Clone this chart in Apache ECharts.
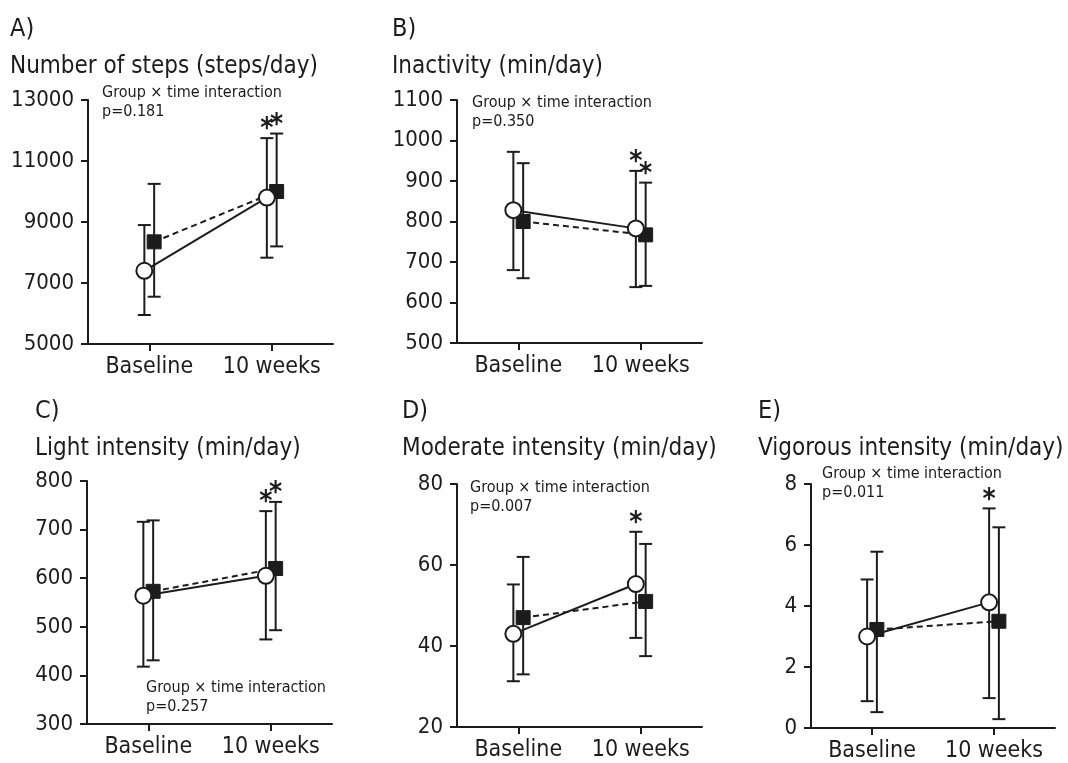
<!DOCTYPE html>
<html>
<head>
<meta charset="utf-8">
<script src="https://cdn.jsdelivr.net/npm/echarts@6/dist/echarts.min.js"></script>
<style>
  html, body { margin: 0; padding: 0; background: #fff; }
  #main { width: 1068px; height: 763px; }
</style>
</head>
<body>
<div id="main"></div>
<script>
// time points
var timeLabels = ['Baseline', '10 weeks'];

// A) steps/day  -- open circle group (solid) / filled square group (dashed)
var stepsOpen = [7400, 9800];
var stepsOpenBar = [[5950, 8900], [7830, 11750]];
var stepsFilled = [8350, 10000];
var stepsFilledBar = [[6550, 10250], [8200, 11900]];

// B) inactivity
var inactOpen = [828, 783];
var inactOpenBar = [[680, 972], [638, 925]];
var inactFilled = [800, 767];
var inactFilledBar = [[660, 944], [641, 896]];

// C) light intensity
var lightOpen = [564, 605];
var lightOpenBar = [[418, 716], [474, 738]];
var lightFilled = [573, 620];
var lightFilledBar = [[431, 719], [493, 757]];

// D) moderate intensity
var modOpen = [43, 55.3];
var modOpenBar = [[31.3, 55.2], [42, 68.2]];
var modFilled = [47, 51];
var modFilledBar = [[33, 62], [37.5, 65.2]];

// E) vigorous intensity
var vigOpen = [3.0, 4.12];
var vigOpenBar = [[0.88, 4.87], [0.98, 7.2]];
var vigFilled = [3.23, 3.5];
var vigFilledBar = [[0.52, 5.78], [0.29, 6.58]];

// asterisks at 10 weeks: [open, filled]
var starsA = [true, true];
var starsB = [true, true];
var starsC = [true, true];
var starsD = [true, false];
var starsE = [true, false];

var ink = '#1c1c1c';
var font = '"DejaVu Sans Condensed", "DejaVu Sans", sans-serif';

var panels = [
  { tag: 'A)', name: 'Number of steps (steps/day)', min: 5000, max: 13000, step: 2000,
    open: stepsOpen, openBar: stepsOpenBar, filled: stepsFilled, filledBar: stepsFilledBar, stars: starsA,
    p: 'p=0.181', grid: { left: 88, top: 100, width: 245, height: 244 },
    tagPos: [10, 17], namePos: [10, 55], notePos: [102, 83] },
  { tag: 'B)', name: 'Inactivity (min/day)', min: 500, max: 1100, step: 100,
    open: inactOpen, openBar: inactOpenBar, filled: inactFilled, filledBar: inactFilledBar, stars: starsB,
    p: 'p=0.350', grid: { left: 457, top: 100, width: 245, height: 243 },
    tagPos: [392, 17], namePos: [392, 55], notePos: [472, 93] },
  { tag: 'C)', name: 'Light intensity (min/day)', min: 300, max: 800, step: 100,
    open: lightOpen, openBar: lightOpenBar, filled: lightFilled, filledBar: lightFilledBar, stars: starsC,
    p: 'p=0.257', grid: { left: 87, top: 481, width: 245, height: 243 },
    tagPos: [35, 399], namePos: [35, 437], notePos: [146, 678] },
  { tag: 'D)', name: 'Moderate intensity (min/day)', min: 20, max: 80, step: 20,
    open: modOpen, openBar: modOpenBar, filled: modFilled, filledBar: modFilledBar, stars: starsD,
    p: 'p=0.007', grid: { left: 457, top: 484, width: 245, height: 243 },
    tagPos: [402, 399], namePos: [402, 437], notePos: [470, 478] },
  { tag: 'E)', name: 'Vigorous intensity (min/day)', min: 0, max: 8, step: 2,
    open: vigOpen, openBar: vigOpenBar, filled: vigFilled, filledBar: vigFilledBar, stars: starsE,
    p: 'p=0.011', grid: { left: 811, top: 484, width: 244, height: 244 },
    tagPos: [758, 399], namePos: [758, 437], notePos: [822, 464] }
];

var shift = 0.08;   // horizontal dodge of the two groups (axis units)

function errorBar(params, api) {
  var x = api.value(0);
  var lo = api.coord([x, api.value(1)]);
  var hi = api.coord([x, api.value(2)]);
  var w = 6.5;
  var st = { stroke: ink, lineWidth: 2 };
  return {
    type: 'group',
    children: [
      { type: 'line', shape: { x1: lo[0], y1: lo[1], x2: hi[0], y2: hi[1] }, style: st },
      { type: 'line', shape: { x1: hi[0] - w, y1: hi[1], x2: hi[0] + w, y2: hi[1] }, style: st },
      { type: 'line', shape: { x1: lo[0] - w, y1: lo[1], x2: lo[0] + w, y2: lo[1] }, style: st }
    ]
  };
}

function starMark(params, api) {
  var pt = api.coord([api.value(0), api.value(1)]);
  return {
    type: 'text',
    style: { x: pt[0], y: pt[1] + 6, text: '*', fill: ink, font: 'bold 28px ' + font,
      align: 'center', verticalAlign: 'bottom' }
  };
}

var titles = [], grids = [], xAxes = [], yAxes = [], series = [];

panels.forEach(function (pn, k) {
  titles.push({ text: pn.tag, left: pn.tagPos[0], top: pn.tagPos[1], padding: 0,
    textStyle: { fontFamily: font, fontSize: 25, fontWeight: 'normal', color: ink } });
  titles.push({ text: pn.name, left: pn.namePos[0], top: pn.namePos[1], padding: 0,
    textStyle: { fontFamily: font, fontSize: 24, fontWeight: 'normal', color: ink } });
  titles.push({ text: 'Group × time interaction\n' + pn.p, left: pn.notePos[0], top: pn.notePos[1], padding: 0,
    textStyle: { fontFamily: font, fontSize: 16, fontWeight: 'normal', color: ink, lineHeight: 19 } });

  grids.push(pn.grid);
  xAxes.push({
    gridIndex: k, type: 'value', min: 0, max: 4, interval: 1,
    axisLine: { show: true, lineStyle: { color: ink, width: 2 } },
    axisTick: { show: true, length: 7, lineStyle: { color: ink, width: 2 }, customValues: [1, 3] },
    axisLabel: { show: true, customValues: [1, 3], margin: 12, color: ink, fontFamily: font, fontSize: 23,
      formatter: function (v) { return timeLabels[(v - 1) / 2]; } },
    splitLine: { show: false }
  });
  yAxes.push({
    gridIndex: k, type: 'value', min: pn.min, max: pn.max, interval: pn.step,
    axisLine: { show: true, lineStyle: { color: ink, width: 2 } },
    axisTick: { show: true, length: 7, lineStyle: { color: ink, width: 2 } },
    axisLabel: { margin: 14, color: ink, fontFamily: font, fontSize: 22,
      formatter: function (v) { return String(v); } },
    splitLine: { show: false }
  });

  var openPts = [], filledPts = [], bars = [], stars = [];
  for (var i = 0; i < 2; i++) {
    var xo = i * 2 + 1 - shift, xf = i * 2 + 1 + shift;
    openPts.push([xo, pn.open[i]]);
    filledPts.push([xf, pn.filled[i]]);
    bars.push([xo, pn.openBar[i][0], pn.openBar[i][1]]);
    bars.push([xf, pn.filledBar[i][0], pn.filledBar[i][1]]);
  }
  if (pn.stars[0]) stars.push([3 - shift, pn.openBar[1][1]]);
  if (pn.stars[1]) stars.push([3 + shift, pn.filledBar[1][1]]);

  series.push({ type: 'custom', xAxisIndex: k, yAxisIndex: k, renderItem: errorBar, data: bars,
    encode: { x: 0, y: [1, 2] }, clip: false, z: 2, silent: true });
  series.push({ type: 'line', xAxisIndex: k, yAxisIndex: k, data: filledPts, z: 3,
    symbol: 'rect', symbolSize: 14, lineStyle: { color: ink, width: 2, type: [6, 4] },
    itemStyle: { color: ink, borderColor: ink, borderWidth: 1 } });
  series.push({ type: 'line', xAxisIndex: k, yAxisIndex: k, data: openPts, z: 4,
    symbol: 'circle', symbolSize: 16, showSymbol: true, lineStyle: { color: ink, width: 2 },
    itemStyle: { color: '#fff', borderColor: ink, borderWidth: 2 } });
  series.push({ type: 'custom', xAxisIndex: k, yAxisIndex: k, renderItem: starMark, data: stars,
    clip: false, z: 5, silent: true });
});

var chart = echarts.init(document.getElementById('main'));
chart.setOption({
  animation: false,
  backgroundColor: '#fff',
  title: titles,
  grid: grids,
  xAxis: xAxes,
  yAxis: yAxes,
  series: series
});
</script>
</body>
</html>
